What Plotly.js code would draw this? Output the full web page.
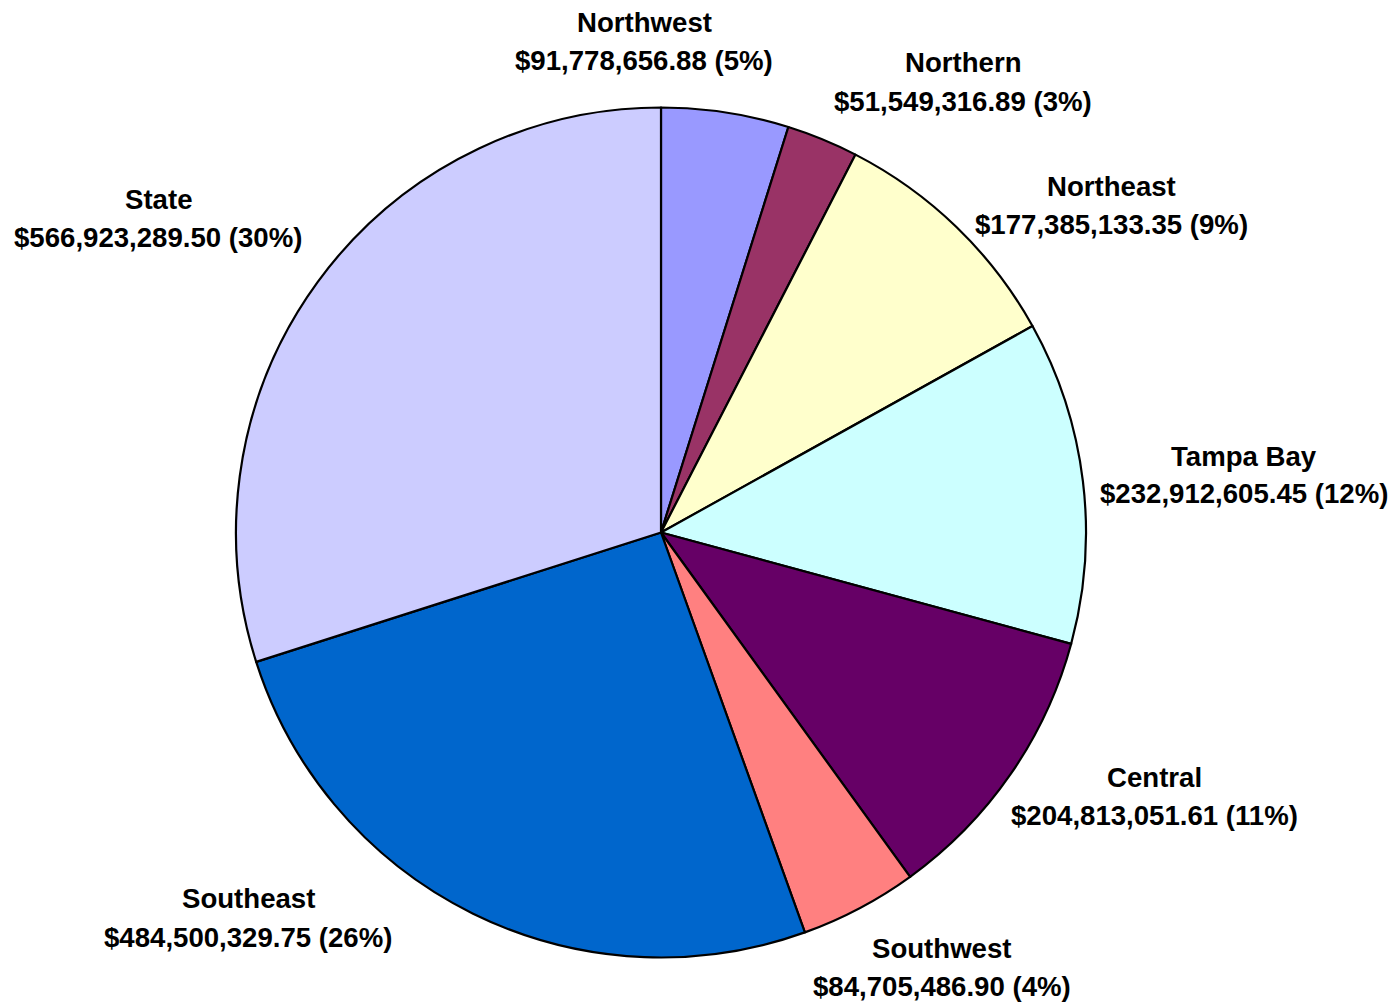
<!DOCTYPE html>
<html>
<head>
<meta charset="utf-8">
<script src="https://cdn.plot.ly/plotly-3.0.1.min.js"></script>
<style>
  html, body { margin: 0; padding: 0; background: #ffffff; }
  #chart { width: 1395px; height: 1002px; }
</style>
</head>
<body>
<div id="chart"></div>
<script>
// ---- Data ----
const regions = ["Northwest", "Northern", "Northeast", "Tampa Bay", "Central", "Southwest", "Southeast", "State"];
const amounts = [91778656.88, 51549316.89, 177385133.35, 232912605.45, 204813051.61, 84705486.90, 484500329.75, 566923289.50];
const sliceColors = ["#9999FF", "#993366", "#FFFFCC", "#CCFFFF", "#660066", "#FF8080", "#0066CC", "#CCCCFF"];

// ---- Layout constants (pixel positions of label text centers) ----
const W = 1395, H = 1002;
const labelPos = {
  "Northwest": [644, 22, 60],
  "Northern":  [963, 63, 101],
  "Northeast": [1111, 186, 224],
  "Tampa Bay": [1244, 456, 493],
  "Central":   [1154, 777, 815],
  "Southwest": [942, 948, 986],
  "Southeast": [248, 898, 937],
  "State":     [158, 200, 237]
};
const pieCenter = [661, 532.5], pieRadius = 425;

const total = amounts.reduce((a, b) => a + b, 0);
function money(v) {
  return "$" + v.toLocaleString("en-US", {minimumFractionDigits: 2, maximumFractionDigits: 2});
}

const font = {family: "Liberation Sans, Arial, sans-serif", size: 27.6, color: "#000000", weight: "bold"};
const annotations = [];
regions.forEach((r, i) => {
  const p = labelPos[r];
  const pct = Math.round(amounts[i] / total * 100);
  annotations.push({
    xref: "paper", yref: "paper", x: p[0] / W, y: 1 - p[1] / H,
    xanchor: "center", yanchor: "middle", showarrow: false,
    text: "<b>" + r + "</b>", font: font
  });
  annotations.push({
    xref: "paper", yref: "paper", x: p[0] / W, y: 1 - p[2] / H,
    xanchor: "center", yanchor: "middle", showarrow: false,
    text: "<b>" + money(amounts[i]) + " (" + pct + "%)</b>", font: font
  });
});

const trace = {
  type: "pie",
  labels: regions,
  values: amounts,
  sort: false,
  direction: "clockwise",
  rotation: 0,
  textinfo: "none",
  hoverinfo: "label+value+percent",
  marker: {colors: sliceColors, line: {color: "#000000", width: 2.2}},
  domain: {
    x: [(pieCenter[0] - pieRadius) / W, (pieCenter[0] + pieRadius) / W],
    y: [1 - (pieCenter[1] + pieRadius) / H, 1 - (pieCenter[1] - pieRadius) / H]
  },
  showlegend: false
};

const layout = {
  width: W, height: H,
  margin: {l: 0, r: 0, t: 0, b: 0},
  paper_bgcolor: "#ffffff",
  plot_bgcolor: "#ffffff",
  showlegend: false,
  annotations: annotations
};

Plotly.newPlot("chart", [trace], layout, {displayModeBar: false, staticPlot: true});
</script>
</body>
</html>
